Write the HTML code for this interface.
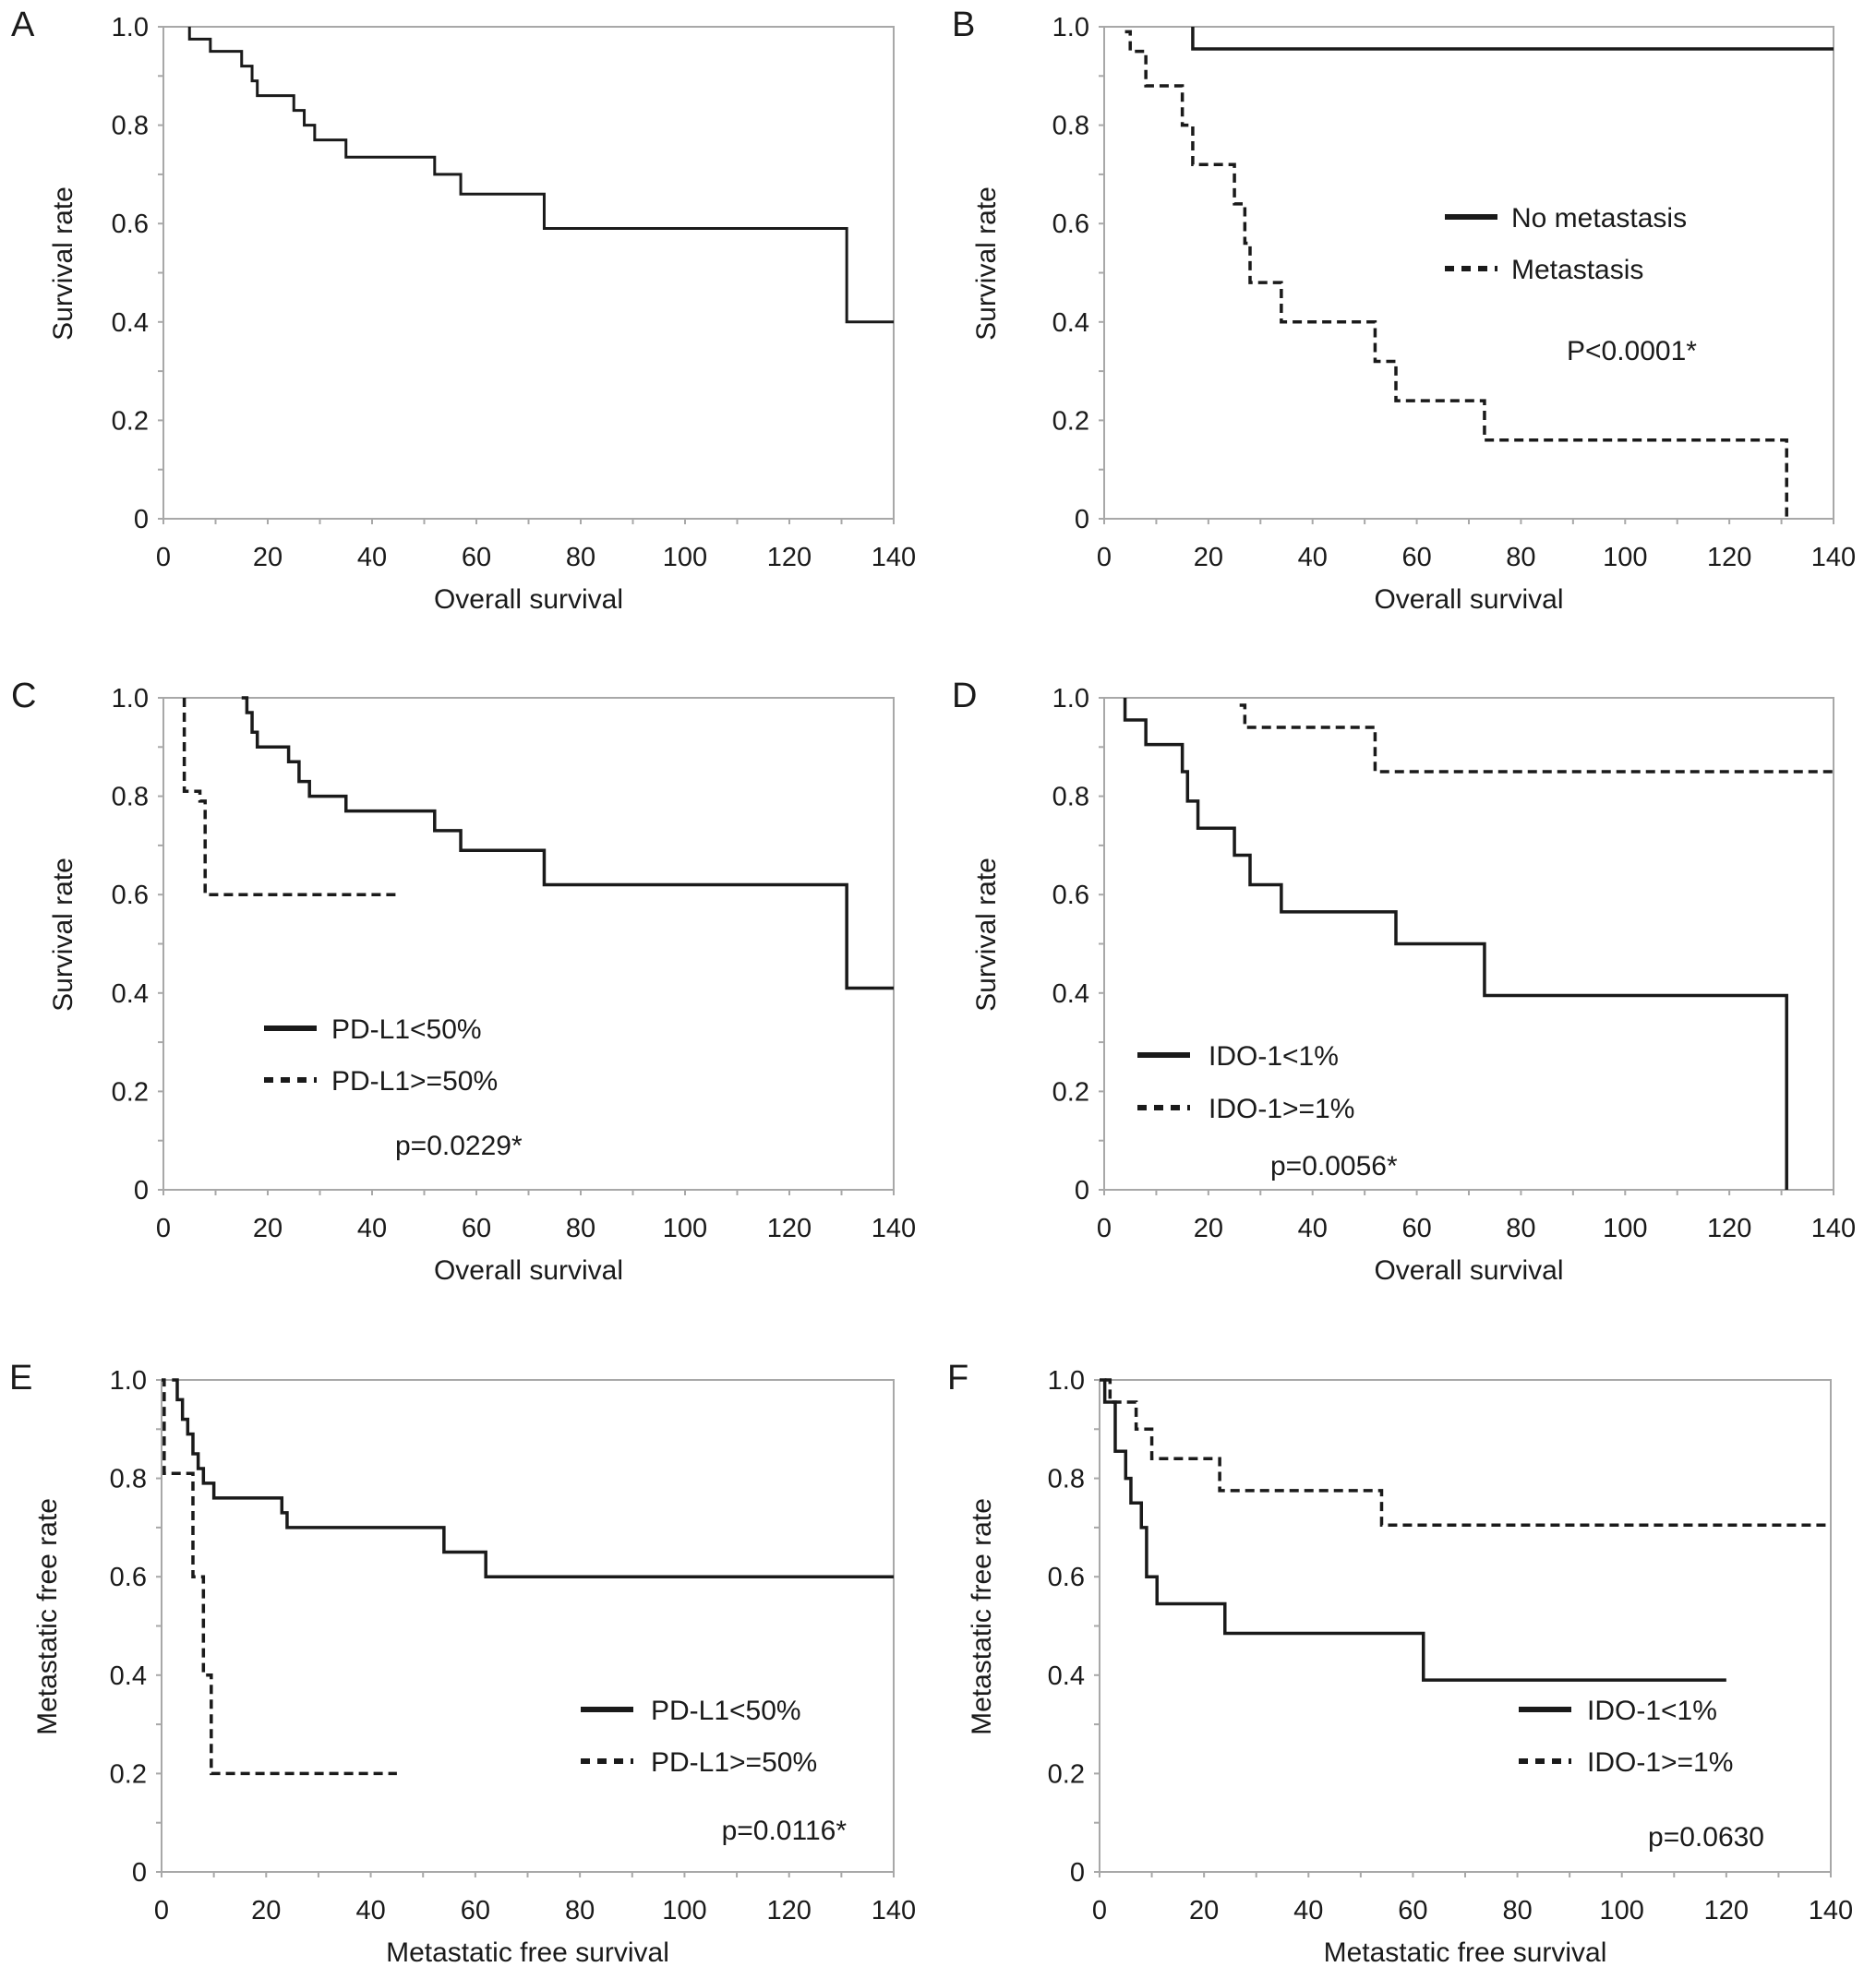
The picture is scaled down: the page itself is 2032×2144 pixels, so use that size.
<!DOCTYPE html>
<html><head><meta charset="utf-8"><style>
html,body{margin:0;padding:0;background:#fff}
svg{display:block}
text{font-family:"Liberation Sans",Arial,sans-serif;fill:#1a1a1a}
</style></head><body>
<svg id="fig" width="2032" height="2144" viewBox="0 0 2032 2144" xmlns="http://www.w3.org/2000/svg"></svg>
<script>
// ---- data (times in months, survival values) ----
const xTicks=[0,20,40,60,80,100,120,140];
const yTicks=[1.0,0.8,0.6,0.4,0.2,0];
const yTickLabels=["1.0","0.8","0.6","0.4","0.2","0"];
const aT=[5,5,9,15,17,18,25,27,29,35,52,57,73,131];
const aS=[1,0.975,0.95,0.92,0.89,0.86,0.83,0.80,0.77,0.735,0.70,0.66,0.59,0.40];
const bSolidT=[17,17];const bSolidS=[1.0,0.955];
const bDashT=[4,5,8,15,17,25,27,28,34,52,56,73,131];
const bDashS=[0.99,0.95,0.88,0.80,0.72,0.64,0.56,0.48,0.40,0.32,0.24,0.16,0];
const cSolidT=[15,16,17,18,24,26,28,35,52,57,73,131];
const cSolidS=[1,0.97,0.93,0.90,0.87,0.83,0.80,0.77,0.73,0.69,0.62,0.41];
const cDashT=[4,4,7,8];const cDashS=[1,0.81,0.79,0.60];
const dSolidT=[4,4,8,15,16,18,25,28,34,56,73,131];
const dSolidS=[1,0.955,0.905,0.85,0.79,0.735,0.68,0.62,0.565,0.50,0.395,0];
const dDashT=[26,27,52];const dDashS=[0.985,0.94,0.85];
const eSolidT=[2,3,4,5,6,7,8,10,23,24,54,62];
const eSolidS=[1,0.96,0.92,0.89,0.85,0.82,0.79,0.76,0.73,0.70,0.65,0.60];
const eDashT=[0,0.5,6,8,9.5];const eDashS=[1,0.81,0.60,0.40,0.20];
const fSolidT=[0,1,3,5,6,8,9,11,24,62];
const fSolidS=[1,0.955,0.855,0.80,0.75,0.70,0.60,0.545,0.485,0.39];
const fDashT=[1,2,7,10,23,54];const fDashS=[1,0.955,0.90,0.84,0.775,0.705];

const NS="http://www.w3.org/2000/svg";
const svg=document.getElementById('fig');
function mk(tag,attrs,parent,txt){const e=document.createElementNS(NS,tag);for(const k in attrs)e.setAttribute(k,attrs[k]);if(txt!==undefined)e.textContent=txt;(parent||svg).appendChild(e);return e;}

const panels=[
 {id:'a',letter:'A',x0:177,x1:968,y0:29,y1:562,yt:'Survival rate',xt:'Overall survival',ytx:78,
  series:[{t:aT,s:aS,end:140,dash:false,w:3}],legend:null},
 {id:'b',letter:'B',x0:1196,x1:1986,y0:29,y1:562,yt:'Survival rate',xt:'Overall survival',ytx:1078,
  series:[{t:bSolidT,s:bSolidS,end:140,dash:false,w:3.5},{t:bDashT,s:bDashS,end:131,dash:true,w:3.5}],
  legend:{lx:1565,tx:1637,y1:235,y2:291,n1:'No metastasis',n2:'Metastasis',p:'P<0.0001*',px:1697,py:379,anchor:'start'}},
 {id:'c',letter:'C',x0:177,x1:968,y0:756,y1:1289,yt:'Survival rate',xt:'Overall survival',ytx:78,
  series:[{t:cSolidT,s:cSolidS,end:140,dash:false,w:3.5},{t:cDashT,s:cDashS,end:45,dash:true,w:3.5}],
  legend:{lx:286,tx:359,y1:1114,y2:1170,n1:'PD-L1<50%',n2:'PD-L1>=50%',p:'p=0.0229*',px:428,py:1240,anchor:'start'}},
 {id:'d',letter:'D',x0:1196,x1:1986,y0:756,y1:1289,yt:'Survival rate',xt:'Overall survival',ytx:1078,
  series:[{t:dSolidT,s:dSolidS,end:131,dash:false,w:3.5},{t:dDashT,s:dDashS,end:140,dash:true,w:3.5}],
  legend:{lx:1232,tx:1309,y1:1143,y2:1200,n1:'IDO-1<1%',n2:'IDO-1>=1%',p:'p=0.0056*',px:1376,py:1262,anchor:'start'}},
 {id:'e',letter:'E',x0:175,x1:968,y0:1495,y1:2028,yt:'Metastatic free rate',xt:'Metastatic free survival',ytx:61,
  series:[{t:eSolidT,s:eSolidS,end:140,dash:false,w:3.5},{t:eDashT,s:eDashS,end:45,dash:true,w:3.5}],
  legend:{lx:629,tx:705,y1:1852,y2:1908,n1:'PD-L1<50%',n2:'PD-L1>=50%',p:'p=0.0116*',px:917,py:1982,anchor:'end'}},
 {id:'f',letter:'F',x0:1191,x1:1983,y0:1495,y1:2028,yt:'Metastatic free rate',xt:'Metastatic free survival',ytx:1073,
  series:[{t:fSolidT,s:fSolidS,end:120,dash:false,w:3.5},{t:fDashT,s:fDashS,end:140,dash:true,w:3.5}],
  legend:{lx:1645,tx:1719,y1:1852,y2:1908,n1:'IDO-1<1%',n2:'IDO-1>=1%',p:'p=0.0630',px:1911,py:1989,anchor:'end'}}
];

panels.forEach(p=>{
  const g=mk('g',{});
  
  
  const X=v=>p.x0+(v/140)*(p.x1-p.x0);
  const Y=v=>p.y1-v*(p.y1-p.y0);
  const lt=mk('text',{x:p.x0-165,y:p.y0+10,'font-size':38},g,p.letter);
  
  
  const fr=mk('rect',{x:p.x0,y:p.y0,width:p.x1-p.x0,height:p.y1-p.y0,fill:'none',stroke:'#a8a8a8','stroke-width':2},g);
  
  
  for(let v=0;v<=1.0001;v+=0.1){mk('line',{x1:p.x0-6,x2:p.x0,y1:Y(v),y2:Y(v),stroke:'#a8a8a8','stroke-width':2},g);}
  for(let v=0;v<=140;v+=10){mk('line',{x1:X(v),x2:X(v),y1:p.y1,y2:p.y1+6,stroke:'#a8a8a8','stroke-width':2},g);}
  yTicks.forEach((v,i)=>{const t=mk('text',{x:p.x0-16,y:Y(v)+10,'font-size':29,'text-anchor':'end'},g,yTickLabels[i]);
    
    });
  xTicks.forEach(v=>{const t=mk('text',{x:X(v),y:p.y1+51,'font-size':29,'text-anchor':'middle'},g,String(v));
    
    });
  const xt=mk('text',{x:(p.x0+p.x1)/2,y:p.y1+97,'font-size':30,'text-anchor':'middle'},g,p.xt);
  
  
  const ym=(p.y0+p.y1)/2;
  const yt=mk('text',{x:p.ytx+10,y:ym,'font-size':30,'text-anchor':'middle',transform:`rotate(-90 ${p.ytx} ${ym})`},g,p.yt);
  
  
  p.series.forEach((s,si)=>{
    let d=`M${X(s.t[0])},${Y(s.s[0])}`;
    for(let i=1;i<s.t.length;i++){d+=` H${X(s.t[i])} V${Y(s.s[i])}`;}
    d+=` H${X(s.end)}`;
    const attrs={d:d,fill:'none',stroke:'#1a1a1a','stroke-width':s.w};
    if(s.dash)attrs['stroke-dasharray']='10 6';
    const path=mk('path',attrs,g);
    
    
  });
  if(p.legend){
    const L=p.legend;
    const l1=mk('line',{x1:L.lx,x2:L.lx+57,y1:L.y1,y2:L.y1,stroke:'#1a1a1a','stroke-width':6},g);
    
    
    const l2=mk('line',{x1:L.lx,x2:L.lx+57,y1:L.y2,y2:L.y2,stroke:'#1a1a1a','stroke-width':6,'stroke-dasharray':'10 8'},g);
    
    
    const t1=mk('text',{x:L.tx,y:L.y1+11,'font-size':30},g,L.n1);
    
    
    const t2=mk('text',{x:L.tx,y:L.y2+11,'font-size':30},g,L.n2);
    
    
    const pv=mk('text',{x:L.px,y:L.py+11,'font-size':30,'text-anchor':L.anchor},g,L.p);
    
    
  }
});
</script>
</body></html>
